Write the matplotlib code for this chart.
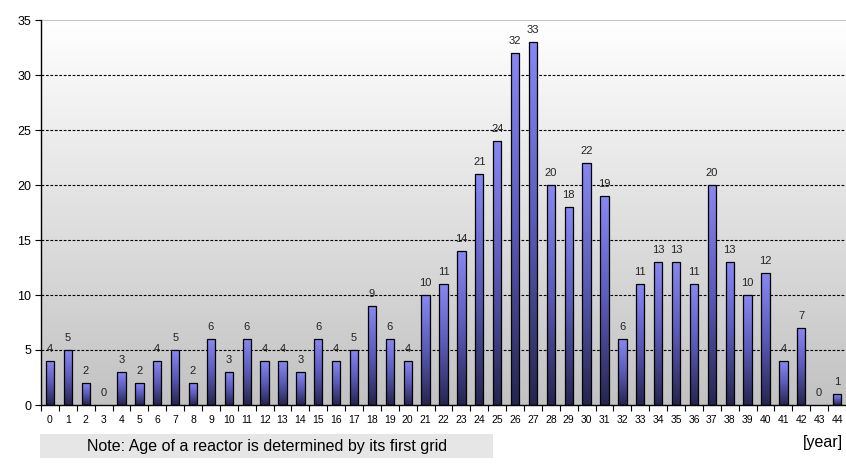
import numpy as np
import matplotlib
matplotlib.use('Agg')
import matplotlib.pyplot as plt
from matplotlib.colors import LinearSegmentedColormap
from matplotlib.patches import Rectangle

#------ Datos -------
edades   = list(range(0, 45))
reactores = [4, 5, 2, 0, 3, 2, 4, 5, 2, 6, 3, 6, 4, 4, 3, 6, 4, 5, 9, 6, 4,
             10, 11, 14, 21, 24, 32, 33, 20, 18, 22, 19, 6, 11, 13, 13, 11,
             20, 13, 10, 12, 4, 7, 0, 1]
y_ticks  = [0, 5, 10, 15, 20, 25, 30, 35]
nota     = 'Note: Age of a reactor is determined by its first grid'
unidad   = '[year]'

plt.rcParams['font.family'] = ['Liberation Sans', 'DejaVu Sans']

W, H = 846, 468
fig = plt.figure(figsize=(W / 100, H / 100), dpi=100)
ax = fig.add_axes([41 / W, (H - 405) / H, (W - 41) / W, 385 / H])

x = np.arange(len(edades))
ancho = 0.46

#------ Fondo en degradé -------
cmap_fondo = LinearSegmentedColormap.from_list('fondo', ['#c2c2c2', '#ffffff'])
grad = np.linspace(0, 1, 256).reshape(-1, 1)
ax.imshow(grad, extent=[-0.5, len(edades) - 0.5, 0, 35], origin='lower',
          aspect='auto', cmap=cmap_fondo, zorder=0)

#------ Grilla -------
for yv in y_ticks[1:-1]:
    ax.axhline(yv, color='black', lw=0.8, ls=(0, (2.5, 1.5)), zorder=1)
ax.axhline(35, color='#b8b8b8', lw=1.2, zorder=1)

#------ Barras con degradé -------
cmap_barra = LinearSegmentedColormap.from_list('barra', ['#25254f', '#5a5ab8', '#8888f4'])
for xi, v in zip(x, reactores):
    if v > 0:
        ax.imshow(grad, extent=[xi - ancho / 2, xi + ancho / 2, 0, v], origin='lower',
                  aspect='auto', cmap=cmap_barra, zorder=2)
        ax.add_patch(Rectangle((xi - ancho / 2, 0), ancho, v, fill=False,
                               edgecolor='black', lw=0.9, zorder=3))
    ax.annotate(str(v), (xi, v), xytext=(0, 12), textcoords='offset pixels',
                ha='center', va='center', fontsize=8, color='#222222', zorder=4)

ax.set_xlim(-0.5, len(edades) - 0.5)
ax.set_ylim(0, 35)

ax.set_yticks(y_ticks)
ax.set_yticklabels([str(t) for t in y_ticks], fontsize=9)
ax.set_xticks(x)
ax.set_xticklabels([str(e) for e in edades], fontsize=7.5)
ax.set_xticks(np.arange(-0.5, len(edades), 1), minor=True)
ax.tick_params(axis='x', which='major', length=0, pad=7)
ax.tick_params(axis='x', which='minor', length=4, width=0.8, direction='out')
ax.tick_params(axis='y', length=4, width=0.8, direction='out', pad=3)

for s in ['top', 'right']:
    ax.spines[s].set_visible(False)
ax.spines['left'].set_linewidth(1)
ax.spines['bottom'].set_linewidth(1)

#------ Nota -------
fig.patches.append(Rectangle((40 / W, (H - 458) / H), (493 - 40) / W, 24 / H,
                             transform=fig.transFigure, facecolor='#e6e6e6',
                             edgecolor='none'))
fig.text(87 / W, (H - 446) / H, nota, ha='left', va='center', fontsize=11.5)
fig.text(843 / W, (H - 443) / H, unidad, ha='right', va='center', fontsize=11.5)

fig.savefig('out.png', dpi=100)
